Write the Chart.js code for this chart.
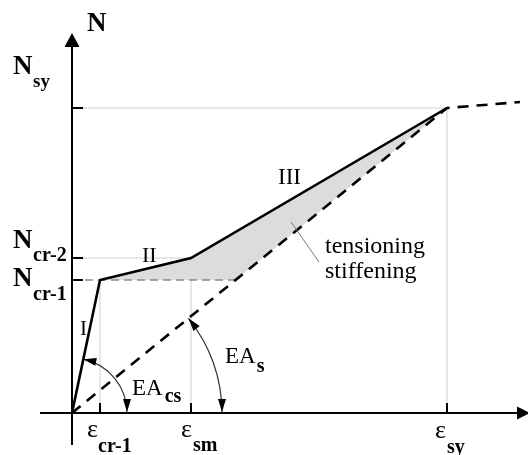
<!DOCTYPE html>
<html><head><meta charset="utf-8">
<script src="https://cdn.jsdelivr.net/npm/chart.js@4.4.1/dist/chart.umd.min.js"></script>
<style>html,body{margin:0;padding:0;background:#fff;overflow:hidden}canvas{display:block}</style>
</head><body>
<canvas id="c" width="528" height="455"></canvas>
<script>
// Values (arbitrary units: strain ε, force N)
const memberStrain = [0, 0.28, 1.19, 3.75];   // 0, εcr-1, εsm, εsy
const memberForce  = [0, 1.33, 1.55, 3.05];   // 0, Ncr-1, Ncr-2, Nsy
const bareStrain   = [0, 3.75, 4.48];         // bare steel EA_s line + post-yield
const bareForce    = [0, 3.05, 3.11];
const plateauStrain = [0, 1.65];              // dashed Ncr-1 level
const plateauForce  = [1.33, 1.33];
const stiffLowerStrain = [0.28, 1.635, 3.75]; // lower edge of tension-stiffening area
const stiffLowerForce  = [1.33, 1.33, 3.05];
const yTickValues = [3.05, 1.55, 1.33];
const yTickSubs   = ['sy', 'cr-2', 'cr-1'];
const xTickValues = [0.28, 1.19, 3.75];
const xTickSubs   = ['cr-1', 'sm', 'sy'];
const stageLabels = ['I', 'II', 'III'];

const pts = (xs, ys) => xs.map((v, i) => ({x: v, y: ys[i]}));

// guide lines (thin grey) built from tick arrays
const guides = [
  pts([0, xTickValues[2]], [yTickValues[0], yTickValues[0]]),
  pts([0, xTickValues[1]], [yTickValues[1], yTickValues[1]]),
  pts([xTickValues[0], xTickValues[0]], [0, yTickValues[2]]),
  pts([xTickValues[1], xTickValues[1]], [0, yTickValues[1]]),
  pts([xTickValues[2], xTickValues[2]], [0, yTickValues[0]])
];

const SERIF = '"Liberation Serif", "DejaVu Serif", serif';
const labelLayout = {
  yTicks: [ {nx:13, ny:74, sx:33, sy:87}, {nx:13, ny:248, sx:33, sy:261}, {nx:13, ny:286, sx:33, sy:300} ],
  xTicks: [ {ex:87, ey:437, sx:98, sy:452}, {ex:181, ey:437, sx:193, sy:451}, {ex:435, ey:438, sx:447, sy:453} ],
  stages: [ {x:80, y:335, s:21}, {x:142, y:262, s:22}, {x:278, y:184, s:23} ]
};

const deco = {
  id: 'deco',
  afterDatasetsDraw(chart) {
    const {ctx, scales: {x, y}} = chart;
    const X = v => x.getPixelForValue(v), Y = v => y.getPixelForValue(v);
    const ox = X(0), oy = Y(0);
    const arrow = (tx, ty, dx, dy, len, half) => {
      const bx = tx - dx * len, by = ty - dy * len;
      ctx.beginPath();
      ctx.moveTo(tx, ty);
      ctx.lineTo(bx - dy * half, by + dx * half);
      ctx.lineTo(bx + dy * half, by - dx * half);
      ctx.closePath(); ctx.fill();
    };
    ctx.save();
    ctx.strokeStyle = '#000'; ctx.fillStyle = '#000'; ctx.lineWidth = 2;
    // axes
    ctx.beginPath(); ctx.moveTo(ox, Y(-0.32)); ctx.lineTo(ox, Y(3.70)); ctx.stroke();
    arrow(ox, Y(3.80), 0, -1, 14, 7.5);
    ctx.beginPath(); ctx.moveTo(X(-0.32), oy); ctx.lineTo(X(4.48), oy); ctx.stroke();
    arrow(X(4.58), oy, 1, 0, 13, 6.5);
    // ticks
    yTickValues.forEach(v => { ctx.beginPath(); ctx.moveTo(ox, Y(v)); ctx.lineTo(ox + 11, Y(v)); ctx.stroke(); });
    xTickValues.forEach(v => { ctx.beginPath(); ctx.moveTo(X(v), oy); ctx.lineTo(X(v), oy - 10); ctx.stroke(); });

    // stiffness arcs
    const arcWithArrows = (px, py, r) => {
      const a0 = Math.atan2(py - oy, px - ox);
      ctx.strokeStyle = '#333'; ctx.lineWidth = 1.2;
      ctx.beginPath(); ctx.arc(ox, oy, r, a0, 0); ctx.stroke();
      ctx.fillStyle = '#000';
      arrow(ox + r * Math.cos(a0), oy + r * Math.sin(a0), Math.sin(a0), -Math.cos(a0), 13, 4);
      arrow(ox + r, oy - 1, 0, 1, 13, 4);
    };
    arcWithArrows(X(memberStrain[1]), Y(memberForce[1]), 55);
    arcWithArrows(X(bareStrain[1]), Y(bareForce[1]), 150);

    // leader line
    ctx.strokeStyle = '#777'; ctx.lineWidth = 1;
    ctx.beginPath(); ctx.moveTo(291, 222); ctx.lineTo(319, 262); ctx.stroke();

    // texts
    ctx.fillStyle = '#000'; ctx.textAlign = 'left'; ctx.textBaseline = 'alphabetic';
    const t = (s, px, py, size, bold) => { ctx.font = (bold ? 'bold ' : '') + size + 'px ' + SERIF; ctx.fillText(s, px, py); return px + ctx.measureText(s).width; };
    t('N', 87, 31, 27, true);
    yTickSubs.forEach((s, i) => { const L = labelLayout.yTicks[i]; t('N', L.nx, L.ny, 27, true); t(s, L.sx, L.sy, i === 0 ? 19 : 20, true); });
    xTickSubs.forEach((s, i) => { const L = labelLayout.xTicks[i]; t('ε', L.ex, L.ey, 26, false); t(s, L.sx, L.sy, 20, true); });
    stageLabels.forEach((s, i) => { const L = labelLayout.stages[i]; t(s, L.x, L.y, L.s, false); });
    t('tensioning', 325, 253, 24, false);
    t('stiffening', 325, 278, 24, false);
    let e = t('EA', 132, 395, 23, false); t('cs', e + 2, 402, 20, true);
    e = t('EA', 225, 363, 23, false); t('s', e + 1, 372, 20, true);
    ctx.restore();
  }
};

const guideSets = guides.map(g => ({data: g, borderColor: '#cfcfcf', borderWidth: 1, pointRadius: 0, fill: false}));

new Chart(document.getElementById('c'), {
  type: 'line',
  data: {
    datasets: [
      {data: pts(memberStrain, memberForce), borderColor: '#000', borderWidth: 2.6, pointRadius: 0, fill: false},
      {data: pts(bareStrain, bareForce), borderColor: '#000', borderWidth: 2.6, borderDash: [11, 8], pointRadius: 0, fill: false},
      {data: pts(plateauStrain, plateauForce), borderColor: '#8a8a8a', borderWidth: 1.5, borderDash: [8, 5], pointRadius: 0, fill: false},
      {data: pts(memberStrain.slice(1), memberForce.slice(1)), borderWidth: 0, borderColor: 'rgba(0,0,0,0)', backgroundColor: '#dcdcdc', pointRadius: 0, fill: '+1'},
      {data: pts(stiffLowerStrain, stiffLowerForce), borderWidth: 0, borderColor: 'rgba(0,0,0,0)', pointRadius: 0, fill: false},
      ...guideSets
    ]
  },
  options: {
    responsive: false, animation: false, devicePixelRatio: 1,
    layout: {padding: 0},
    plugins: {legend: {display: false}, tooltip: {enabled: false}},
    elements: {line: {tension: 0}},
    scales: {
      x: {type: 'linear', min: -0.72, max: 4.56, display: false},
      y: {type: 'linear', min: -0.42, max: 4.13, display: false}
    }
  },
  plugins: [deco]
});
</script>
</body></html>
